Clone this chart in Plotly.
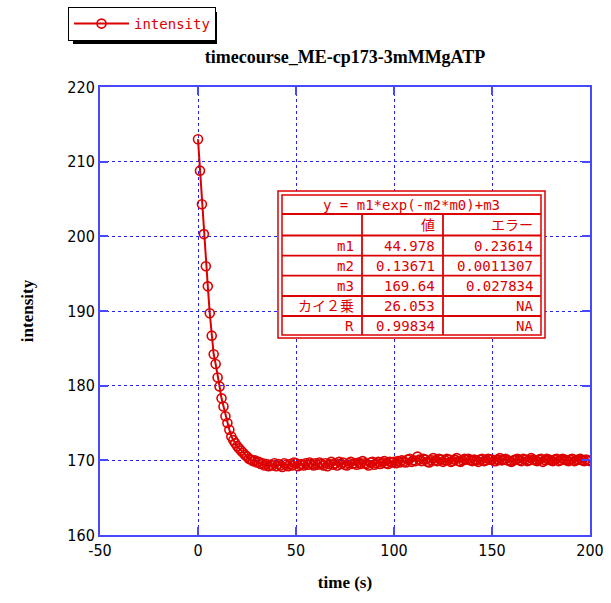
import plotly.graph_objects as go

# Time course of the fluorescence intensity (s, a.u.), sampled every second
time_s = [
    0, 1, 2, 3, 4, 5, 6, 7, 8, 9, 10, 11, 12, 13, 14, 15, 16, 17, 18, 19,
    20, 21, 22, 23, 24, 25, 26, 27, 28, 29, 30, 31, 32, 33, 34, 35, 36, 37, 38, 39,
    40, 41, 42, 43, 44, 45, 46, 47, 48, 49, 50, 51, 52, 53, 54, 55, 56, 57, 58, 59,
    60, 61, 62, 63, 64, 65, 66, 67, 68, 69, 70, 71, 72, 73, 74, 75, 76, 77, 78, 79,
    80, 81, 82, 83, 84, 85, 86, 87, 88, 89, 90, 91, 92, 93, 94, 95, 96, 97, 98, 99,
    100, 101, 102, 103, 104, 105, 106, 107, 108, 109, 110, 111, 112, 113, 114, 115, 116, 117, 118, 119,
    120, 121, 122, 123, 124, 125, 126, 127, 128, 129, 130, 131, 132, 133, 134, 135, 136, 137, 138, 139,
    140, 141, 142, 143, 144, 145, 146, 147, 148, 149, 150, 151, 152, 153, 154, 155, 156, 157, 158, 159,
    160, 161, 162, 163, 164, 165, 166, 167, 168, 169, 170, 171, 172, 173, 174, 175, 176, 177, 178, 179,
    180, 181, 182, 183, 184, 185, 186, 187, 188, 189, 190, 191, 192, 193, 194, 195, 196, 197, 198, 199,
    200,
]
intensity = [
    213.0, 208.8, 204.3, 200.3, 196.0, 193.3, 189.7, 186.7, 184.2, 182.9,
    181.1, 179.9, 178.3, 177.2, 175.9, 175.0, 174.1, 173.2, 172.7, 172.3,
    171.9, 171.6, 171.3, 171.0, 170.7, 170.5, 170.2, 170.1, 169.9, 170.0,
    169.7, 169.8, 169.5, 169.6, 169.3, 169.5, 169.2, 169.4, 169.3, 169.6,
    169.2, 169.5, 169.3, 169.1, 169.6, 169.4, 169.2, 169.5, 169.3, 169.7,
    169.6, 169.2, 169.4, 169.5, 169.3, 169.6, 169.4, 169.7, 169.5, 169.3,
    169.6, 169.4, 169.7, 169.5, 169.3, 169.6, 169.2, 169.5, 169.8, 169.4,
    169.6, 169.3, 169.8, 169.5, 169.7, 169.4, 169.3, 169.6, 169.8, 169.5,
    169.6, 169.4, 169.7, 169.5, 169.9, 169.6, 169.5, 169.3, 169.7, 169.8,
    169.4, 169.6, 169.8, 169.5, 169.7, 169.9, 169.6, 169.5, 169.8, 169.7,
    169.8, 169.6, 169.9, 169.7, 170.0, 169.8, 169.7, 170.1, 170.2, 169.8,
    170.0, 169.9, 170.5, 170.1, 169.9, 170.2, 170.1, 169.8, 169.7, 170.0,
    170.3, 170.0, 169.9, 170.2, 170.1, 169.8, 170.0, 170.2, 170.1, 169.8,
    169.9, 170.1, 170.3, 169.9, 169.8, 170.0, 170.2, 170.1, 170.2, 170.0,
    169.9, 170.1, 170.0, 169.8, 170.1, 170.2, 169.9, 170.0, 170.2, 170.1,
    170.1, 169.9, 169.9, 170.1, 170.3, 170.0, 170.1, 170.2, 170.0, 169.9,
    169.8, 170.0, 170.1, 170.2, 170.0, 169.9, 170.2, 170.1, 169.9, 170.0,
    170.3, 170.1, 170.0, 169.9, 170.1, 170.2, 169.8, 170.0, 170.2, 170.1,
    170.0, 169.9, 170.1, 170.2, 169.9, 170.0, 170.2, 170.1, 170.0, 169.9,
    170.1, 170.2, 169.9, 170.0, 170.1, 170.2, 170.0, 169.9, 170.1, 170.0,
    169.9,
]

# Axis ticks (plain hyphen-minus on the negative label)
x_ticks = [-50, 0, 50, 100, 150, 200]
x_tick_text = ["-50", "0", "50", "100", "150", "200"]
y_ticks = [160, 170, 180, 190, 200, 210, 220]

# Fit results table
fit_equation = "y = m1*exp(-m2*m0)+m3"
table_header = ["", "値", "エラー"]
param_names = ["m1", "m2", "m3", "カイ２乗", "R"]
param_values = ["44.978", "0.13671", "169.64", "26.053", "0.99834"]
param_errors = ["0.23614", "0.0011307", "0.027834", "NA", "NA"]

W, H = 611, 603
ML, MR, MT, MB = 100, 21, 87, 68
PW, PH = W - ML - MR, H - MT - MB

RED = "#dd0000"
AXIS_BLUE = "#4848ff"
GRID_BLUE = "#2424f0"
MONO = "DejaVu Sans Mono, Noto Sans CJK JP, monospace"
NARROW = "Liberation Sans Narrow, DejaVu Sans Condensed, sans-serif"
SERIF = "Liberation Serif, Times New Roman, serif"


def px_x(px):
    return (px - ML) / PW


def px_y(py):
    return (H - MB - py) / PH


fig = go.Figure()
fig.add_trace(go.Scatter(
    x=time_s, y=intensity, mode="lines+markers", name="intensity",
    line=dict(color=RED, width=2),
    marker=dict(symbol="circle-open", size=9, color=RED, line=dict(width=1.6, color=RED)),
))

axis_common = dict(
    showline=True, linecolor=AXIS_BLUE, linewidth=2, mirror="ticks",
    ticks="inside", ticklen=8, tickwidth=2, tickcolor=AXIS_BLUE,
    showgrid=True, gridcolor=GRID_BLUE, gridwidth=1, griddash="dot",
    zeroline=False, tickfont=dict(family=NARROW, size=16, color="black"),
)

fig.update_xaxes(range=[-50, 200], tickvals=x_ticks, ticktext=x_tick_text, **axis_common,
                 title=dict(text="time (s)", standoff=17,
                            font=dict(family=SERIF, size=17, color="black", weight="bold")))
fig.update_yaxes(range=[160, 220], tickvals=y_ticks, **axis_common,
                 title=dict(text="intensity", standoff=29,
                            font=dict(family=SERIF, size=17, color="black", weight="bold")))

shapes = []
annotations = []

# fit table: double frame, row and column rules
tx0, tx1, ty0, ty1 = 278, 545, 191, 338
ix0, ix1, iy0, iy1 = 282, 541, 195, 335
shapes.append(dict(type="rect", xref="paper", yref="paper",
                   x0=px_x(tx0), x1=px_x(tx1), y0=px_y(ty1), y1=px_y(ty0),
                   fillcolor="white", line=dict(color=RED, width=1.5), layer="above"))
shapes.append(dict(type="rect", xref="paper", yref="paper",
                   x0=px_x(ix0), x1=px_x(ix1), y0=px_y(iy1), y1=px_y(iy0),
                   fillcolor="rgba(0,0,0,0)", line=dict(color=RED, width=1.5), layer="above"))
row_edges = [195, 214, 235.5, 255.7, 275.7, 296, 316, 335]
for yb in row_edges[1:-1]:
    shapes.append(dict(type="line", xref="paper", yref="paper",
                       x0=px_x(ix0), x1=px_x(ix1), y0=px_y(yb), y1=px_y(yb),
                       line=dict(color=RED, width=1.8), layer="above"))
col_edges = [282, 362, 443, 541]
for xb in col_edges[1:-1]:
    shapes.append(dict(type="line", xref="paper", yref="paper",
                       x0=px_x(xb), x1=px_x(xb), y0=px_y(row_edges[1]), y1=px_y(row_edges[-1]),
                       line=dict(color=RED, width=1.8), layer="above"))

cell_font = dict(family=MONO, size=14, color=RED)
annotations.append(dict(text=fit_equation, xref="paper", yref="paper",
                        x=px_x((ix0 + ix1) / 2), y=px_y((row_edges[0] + row_edges[1]) / 2),
                        xanchor="center", yanchor="middle", showarrow=False, font=cell_font))
rows = [table_header] + [[n, v, e] for n, v, e in zip(param_names, param_values, param_errors)]
for r, row in enumerate(rows):
    yc = (row_edges[r + 1] + row_edges[r + 2]) / 2
    for c, txt in enumerate(row):
        if not txt:
            continue
        annotations.append(dict(text=txt, xref="paper", yref="paper",
                                x=px_x(col_edges[c + 1] - 6), y=px_y(yc),
                                xanchor="right", yanchor="middle", showarrow=False,
                                font=cell_font))

# legend drop shadow (drawn under the legend box, offset down-right)
shapes.append(dict(type="rect", xref="paper", yref="paper",
                   x0=px_x(73), x1=px_x(217), y0=px_y(44), y1=px_y(12),
                   fillcolor="black", line=dict(width=0), layer="above"))

fig.update_layout(
    width=W, height=H,
    margin=dict(l=ML, r=MR, t=MT, b=MB, autoexpand=False),
    paper_bgcolor="white", plot_bgcolor="white",
    title=dict(text="timecourse_ME-cp173-3mMMgATP", x=0.5, xref="paper",
               y=1 - 57 / H, yref="container", yanchor="middle",
               font=dict(family=SERIF, size=18, color="black", weight="bold")),
    showlegend=True,
    legend=dict(x=px_x(68), y=px_y(7), xanchor="left", yanchor="top",
                bgcolor="white", bordercolor="black", borderwidth=1,
                itemwidth=55,
                font=dict(family=MONO, size=14, color=RED)),
    shapes=shapes, annotations=annotations,
)

fig.write_html("out.html")
